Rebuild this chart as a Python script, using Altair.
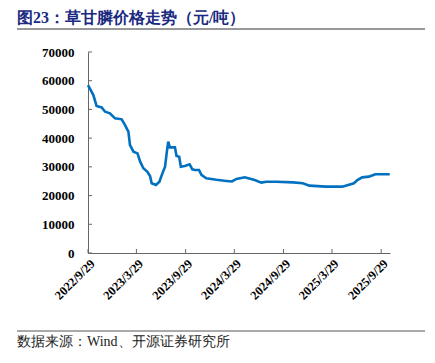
import altair as alt
import pandas as pd

title_text = "图23：草甘膦价格走势（元/吨）"
source_text = "数据来源：Wind、开源证券研究所"

dates = [
    "2022/09/29", "2022/10/19", "2022/10/31", "2022/11/19", "2022/12/02", "2022/12/20",
    "2023/01/08", "2023/02/02", "2023/02/14", "2023/02/27", "2023/03/05", "2023/03/18",
    "2023/04/02", "2023/04/12", "2023/04/24", "2023/05/09", "2023/05/19", "2023/05/25",
    "2023/06/10", "2023/06/23", "2023/07/02", "2023/07/14", "2023/07/20", "2023/07/26",
    "2023/08/01", "2023/08/20", "2023/08/26", "2023/09/05", "2023/09/11", "2023/09/26",
    "2023/10/14", "2023/10/24", "2023/11/02", "2023/11/18", "2023/11/27", "2023/12/15",
    "2024/01/22", "2024/02/28", "2024/03/20", "2024/04/06", "2024/05/07", "2024/06/13",
    "2024/07/08", "2024/07/26", "2024/09/02", "2024/11/03", "2024/12/10", "2025/01/04",
    "2025/03/06", "2025/05/07", "2025/06/19", "2025/07/02", "2025/07/20", "2025/08/14",
    "2025/09/07", "2025/10/31",
]
prices = [
    58500, 55000, 51200, 50700, 49200, 48650,
    46900, 46550, 44600, 42250, 37600, 35300,
    34700, 31800, 29500, 28300, 26800, 24300,
    23700, 24800, 27200, 30050, 34700, 38800,
    36800, 36800, 33800, 33500, 30050, 30300,
    30900, 29150, 28900, 28900, 27200, 26000,
    25500, 25100, 24900, 25800, 26350, 25400,
    24500, 24800, 24800, 24600, 24300, 23450,
    23100, 23100, 24300, 25400, 26350, 26600,
    27400, 27400,
]

x_tick_dates = ["2022/09/29", "2023/03/29", "2023/09/29", "2024/03/29",
                "2024/09/29", "2025/03/29", "2025/09/29"]
y_tick_values = [0, 10000, 20000, 30000, 40000, 50000, 60000, 70000]

W, H = 302, 201

df = pd.DataFrame({"date": dates, "price": prices})

def dt(s):
    y, m, d = [int(v) for v in s.split("/")]
    return alt.DateTime(year=y, month=m, date=d)

x_scale = alt.Scale(domain=[dt("2022/09/29"), dt("2025/11/01")])
y_scale = alt.Scale(domain=[0, 70000])

x_axis = alt.Axis(values=[dt(s) for s in x_tick_dates], format="%Y/%-m/%-d",
                  labelAngle=-45, labelFont="Liberation Serif", labelFontWeight="bold",
                  labelFontSize=12.5, labelColor="#000", tickSize=0, labelPadding=4,
                  domainColor="#666", grid=False, labelOverlap=False)
y_axis = alt.Axis(values=y_tick_values, format="d", labelFont="Liberation Serif",
                  labelFontWeight="bold", labelFontSize=13, labelColor="#000",
                  tickSize=0, labelPadding=14, domainColor="#666", grid=False)

line = alt.Chart(df).mark_line(color="#0070C0", strokeWidth=2.6).encode(
    x=alt.X("date:T", scale=x_scale, title=None, axis=x_axis),
    y=alt.Y("price:Q", scale=y_scale, title=None, axis=y_axis),
)

xticks = alt.Chart(pd.DataFrame({"date": x_tick_dates})).mark_rule(color="#666", strokeWidth=1).encode(
    x=alt.X("date:T", scale=x_scale, title=None, axis=x_axis),
    y=alt.value(H), y2=alt.value(H - 4),
)
yticks = alt.Chart(pd.DataFrame({"price": y_tick_values})).mark_rule(color="#666", strokeWidth=1).encode(
    y=alt.Y("price:Q", scale=y_scale, title=None, axis=y_axis),
    x=alt.value(0), x2=alt.value(4),
)

title = alt.Chart(pd.DataFrame({"t": [title_text]})).mark_text(
    align="left", baseline="alphabetic", font="Liberation Serif", fontWeight="bold",
    fontSize=16, color="#1a2a80",
).encode(x=alt.value(-71), y=alt.value(-29), text="t:N")

title_rule = alt.Chart(pd.DataFrame({"a": [0]})).mark_rule(color="#333", strokeWidth=1).encode(
    x=alt.value(-71), x2=alt.value(337), y=alt.value(-23))

foot_rule = alt.Chart(pd.DataFrame({"a": [0]})).mark_rule(color="#555", strokeWidth=1).encode(
    x=alt.value(-71), x2=alt.value(337), y=alt.value(279))

source = alt.Chart(pd.DataFrame({"t": [source_text]})).mark_text(
    align="left", baseline="alphabetic", font="Liberation Serif", fontSize=14, color="#222",
).encode(x=alt.value(-71), y=alt.value(294), text="t:N")

chart = alt.layer(line, xticks, yticks, title, title_rule, foot_rule, source).properties(
    width=W, height=H,
    autosize=alt.AutoSizeParams(type="none"),
    padding={"left": 80, "top": 44, "right": 37, "bottom": 102},
).configure_view(stroke=None)

chart.save("out.html", embed_options={"renderer": "svg", "actions": False})
